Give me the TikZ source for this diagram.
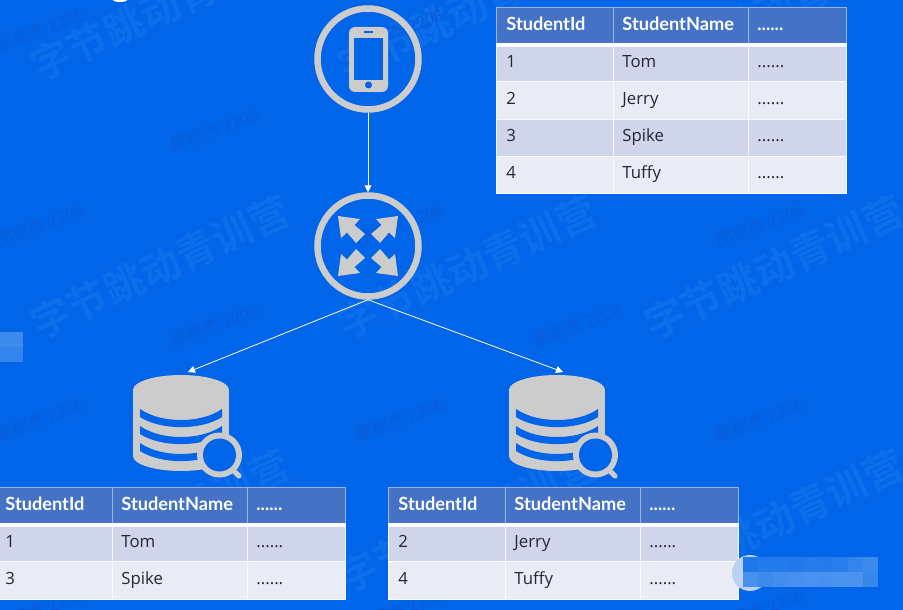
\documentclass[tikz,border=0pt]{standalone}
\usepackage{fontspec}
\setmainfont{Open Sans}
\newfontfamily\headfont{Lato}
\newfontfamily\cjk{Noto Sans CJK SC}
\newfontfamily\cjkbold{Noto Sans CJK SC Bold}
\usetikzlibrary{arrows.meta}
\definecolor{bgblue}{HTML}{0065E8}
\definecolor{bigmark}{HTML}{0D6EEB}
\definecolor{smallmark}{HTML}{0A5CD8}
\definecolor{iconfill}{HTML}{CCCCCC}
\definecolor{headblue}{HTML}{4472C4}
\definecolor{headline}{HTML}{9DB3E2}
\definecolor{rowdark}{HTML}{CFD5EA}
\definecolor{rowlight}{HTML}{E9EBF5}
\definecolor{celltext}{HTML}{262633}
\definecolor{pillblue}{HTML}{BBD0F3}
\tikzset{
  cellbase/.style={draw,line width=.8pt,anchor=north west,inner xsep=0pt,inner ysep=0pt,
    align=left,font=\fontsize{16.8}{17}\selectfont,text height=12pt,text depth=4pt},
  headcell/.style={cellbase,fill=headblue,draw=headline,text=white,font=\headfont\fontsize{18.2}{18}\selectfont\bfseries,text depth=2pt},
  darkcell/.style={cellbase,fill=rowdark,draw=white!85!rowdark,text=celltext},
  lightcell/.style={cellbase,fill=rowlight,draw=white!85!rowlight,text=celltext},
  iconring/.style={circle,draw=iconfill,line width=6.5pt,minimum size=101pt,inner sep=0pt},
  link/.style={draw=white,line width=.8pt,-{Triangle[length=7pt,width=7pt]}},
  bigwater/.style={text=bigmark,rotate=25,font=\cjkbold\fontsize{40}{40}\selectfont},
  smallwater/.style={text=smallmark,rotate=20,font=\cjk\fontsize{17}{17}\selectfont},
}
% x, name, rows as num/top/height/style/id/name
\newcommand{\studenttable}[4]{
  \foreach \rownum/\ytop/\rowh/\rowstyle/\sid/\sname in {#4} {
    \node[\rowstyle,minimum height=\rowh pt,text width=107pt,inner xsep=5pt] (#2-\rownum-id) at (#1,#3+\ytop) {\hspace*{5pt}\sid};
    \node[\rowstyle,minimum height=\rowh pt,text width=125pt,inner xsep=5pt] (#2-\rownum-name) at (#1+117,#3+\ytop) {\hspace*{4pt}\sname};
    \node[\rowstyle,minimum height=\rowh pt,text width=88pt,inner xsep=5pt] (#2-\rownum-more) at (#1+252,#3+\ytop) {\hspace*{4pt}......};
  }
  \fill[white] (#1,#3+36) rectangle (#1+351,#3+39);
}
\newcommand{\dbicon}[2]{
  \begin{scope}[shift={(#1,0)}]
    \fill[iconfill] (0,390) ellipse [x radius=48,y radius=15];
    \fill[iconfill] (-48,390) rectangle (48,456);
    \fill[iconfill] (0,456) ellipse [x radius=48,y radius=15];
    \foreach \dy in {0,17,34} {
      \fill[bgblue] (-41,409+\dy) .. controls (-20,423.7+\dy) and (20,423.7+\dy) .. (41,409+\dy)
        -- (41,417+\dy) .. controls (20,430.5+\dy) and (-20,430.5+\dy) .. (-41,417+\dy) -- cycle;
    }
    \fill[iconfill] (38.5,455) circle (22.5);
    \fill[bgblue] (38.5,455) circle (16.5);
    \draw[iconfill,line width=5pt,line cap=round] (52,470) -- (58,476);
  \end{scope}
  \coordinate (#2) at (#1,375);
}
\begin{document}
\begin{tikzpicture}[x=1pt,y=-1pt]
  \useasboundingbox (0,0) rectangle (903,610);
  \fill[bgblue] (0,0) rectangle (903,610);
  % watermarks
  \foreach \mx in {160,467,774} {
    \foreach \my in {9,267,521} {
      \node[bigwater] (big-\mx-\my) at (\mx,\my) {字节跳动青训营};
    }
  }
  \foreach \mx in {40,400,760} {
    \foreach \my in {30,225,420,610} {
      \node[smallwater] (small-\mx-\my) at (\mx,\my) {邵桐杰 2206};
    }
  }
  \foreach \mx in {215,578} {
    \foreach \my in {130,325,515} {
      \node[smallwater] (small-\mx-\my) at (\mx,\my) {邵桐杰 2206};
    }
  }
  \fill[white] (120,0) ellipse [x radius=7,y radius=2];

  % tables
  \studenttable{496}{top}{7}{h/0/36/headcell/StudentId/StudentName,1/39/35/darkcell/1/Tom,
    2/74/38/lightcell/2/Jerry,3/112/36.5/darkcell/3/Spike,4/148.5/37.5/lightcell/4/Tuffy}
  \studenttable{-5}{left}{487}{h/0/36/headcell/StudentId/StudentName,1/39/35/darkcell/1/Tom,
    3/74/38/lightcell/3/Spike}
  \studenttable{388}{right}{487}{h/0/36/headcell/StudentId/StudentName,2/39/35/darkcell/2/Jerry,
    4/74/38/lightcell/4/Tuffy}

  % phone
  \node[iconring] (phone) at (368,59) {};
  \fill[iconfill,rounded corners=6pt] (349,27) rectangle (388,92);
  \fill[bgblue] (354,38) rectangle (383,80);
  \draw[bgblue,line width=1.2pt] (364,32) -- (373,32);
  \fill[bgblue] (368.5,85) circle (3.5);

  % router
  \node[iconring] (router) at (368,246) {};
  \foreach \ang in {0,90,180,270} {
    \fill[iconfill,shift={(router)},rotate=\ang] (-30,-30) -- (-8,-27) -- (-13.5,-21) -- (-3,-12)
      -- (-12,-3) -- (-21,-13.5) -- (-27,-8) -- cycle;
  }

  % databases
  \dbicon{181}{dbleft}
  \dbicon{557}{dbright}
  \coordinate (tipleft) at (188,372);
  \coordinate (tipright) at (563,372);

  \draw[link] (phone) -- (router);
  \draw[link] (router.south) -- (tipleft);
  \draw[link] (router.south) -- (tipright);

  % blurred patches
  \fill[white!24!bgblue] (0,332) rectangle (23,347);
  \fill[white!20!bgblue] (0,347) rectangle (23,362);
  \fill[pillblue] (750,573) circle (18);
  \foreach \i/\toptone/\lowtone in {0/12/28,1/14/24,2/14/26,3/13/28,4/15/29,5/14/28,6/16/30,7/20/30,8/24/22} {
    \fill[white!\toptone!bgblue] (743+15*\i,557) rectangle (758+15*\i,572);
    \fill[white!\lowtone!bgblue] (743+15*\i,572) rectangle (758+15*\i,587);
  }
\end{tikzpicture}
\end{document}
